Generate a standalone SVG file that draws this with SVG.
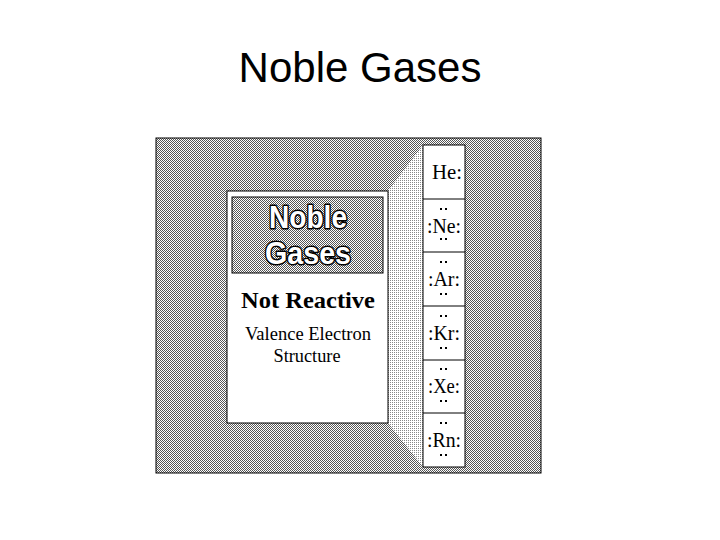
<svg xmlns="http://www.w3.org/2000/svg" width="720" height="540" viewBox="0 0 720 540">
<defs>
<pattern id="chk" width="2" height="2" patternUnits="userSpaceOnUse"><rect width="2" height="2" fill="#fff"/><rect width="1" height="1" fill="#555"/><rect x="1" y="1" width="1" height="1" fill="#555"/></pattern>
<pattern id="dot" width="2" height="2" patternUnits="userSpaceOnUse"><rect width="2" height="2" fill="#fff"/><rect width="1" height="1" fill="#888"/></pattern>
<style>
.el{font-family:"Liberation Serif",serif;font-size:21px;text-anchor:middle;fill:#000}
.dv{stroke:#000;stroke-width:1}
.d{fill:#000}
</style>
</defs>
<rect width="720" height="540" fill="#fff"/>
<text x="360" y="82" font-family="Liberation Sans, Arial, sans-serif" font-size="42" text-anchor="middle">Noble Gases</text>
<g id="background"><rect x="156" y="138" width="385" height="335" fill="url(#chk)" stroke="#000"/></g>
<g id="shade"><polygon points="388,191 423,145 423,467 388,423" fill="url(#dot)"/></g>
<g id="card">
<rect x="227" y="191" width="161" height="232" fill="#fff" stroke="#000"/>
<rect x="232" y="197" width="151" height="76" fill="url(#chk)" stroke="#000"/>
<g font-family="Liberation Sans, sans-serif" font-weight="bold" font-size="32" text-anchor="middle" fill="#fff" stroke="#000" stroke-width="3" stroke-linejoin="round" paint-order="stroke">
<text x="308" y="228" textLength="78" lengthAdjust="spacingAndGlyphs">Noble</text><text x="308" y="264" textLength="86" lengthAdjust="spacingAndGlyphs">Gases</text></g>
<text x="308" y="308" font-family="Liberation Serif, serif" font-weight="bold" font-size="24" text-anchor="middle" textLength="134" lengthAdjust="spacingAndGlyphs">Not Reactive</text>
<text x="308" y="340" font-family="Liberation Serif, serif" font-size="19" text-anchor="middle" textLength="126" lengthAdjust="spacingAndGlyphs">Valence Electron</text>
<text x="307" y="362" font-family="Liberation Serif, serif" font-size="19" text-anchor="middle" textLength="67" lengthAdjust="spacingAndGlyphs">Structure</text>
</g>
<g id="column">
<rect x="423" y="145" width="42" height="322" fill="#fff" stroke="#000"/>
<g class="dv"><line x1="423" y1="199" x2="465" y2="199"/><line x1="423" y1="252" x2="465" y2="252"/><line x1="423" y1="306" x2="465" y2="306"/><line x1="423" y1="360" x2="465" y2="360"/><line x1="423" y1="413" x2="465" y2="413"/></g>
<text class="el" x="447" y="179" textLength="30" lengthAdjust="spacingAndGlyphs">He:</text>
<text class="el" x="444" y="233" textLength="34" lengthAdjust="spacingAndGlyphs">:Ne:</text>
<text class="el" x="444" y="286" textLength="32" lengthAdjust="spacingAndGlyphs">:Ar:</text>
<text class="el" x="444" y="340" textLength="32" lengthAdjust="spacingAndGlyphs">:Kr:</text>
<text class="el" x="444" y="393" textLength="32" lengthAdjust="spacingAndGlyphs">:Xe:</text>
<text class="el" x="444" y="447" textLength="34" lengthAdjust="spacingAndGlyphs">:Rn:</text>
<g class="d">
<rect x="440" y="208" width="2" height="2"/><rect x="445" y="208" width="2" height="2"/><rect x="440" y="238" width="2" height="2"/><rect x="445" y="238" width="2" height="2"/>
<rect x="440" y="261" width="2" height="2"/><rect x="445" y="261" width="2" height="2"/><rect x="440" y="293" width="2" height="2"/><rect x="445" y="293" width="2" height="2"/>
<rect x="440" y="315" width="2" height="2"/><rect x="445" y="315" width="2" height="2"/><rect x="440" y="347" width="2" height="2"/><rect x="445" y="347" width="2" height="2"/>
<rect x="440" y="368" width="2" height="2"/><rect x="445" y="368" width="2" height="2"/><rect x="440" y="400" width="2" height="2"/><rect x="445" y="400" width="2" height="2"/>
<rect x="440" y="422" width="2" height="2"/><rect x="445" y="422" width="2" height="2"/><rect x="440" y="454" width="2" height="2"/><rect x="445" y="454" width="2" height="2"/>
</g>
</g>
</svg>
